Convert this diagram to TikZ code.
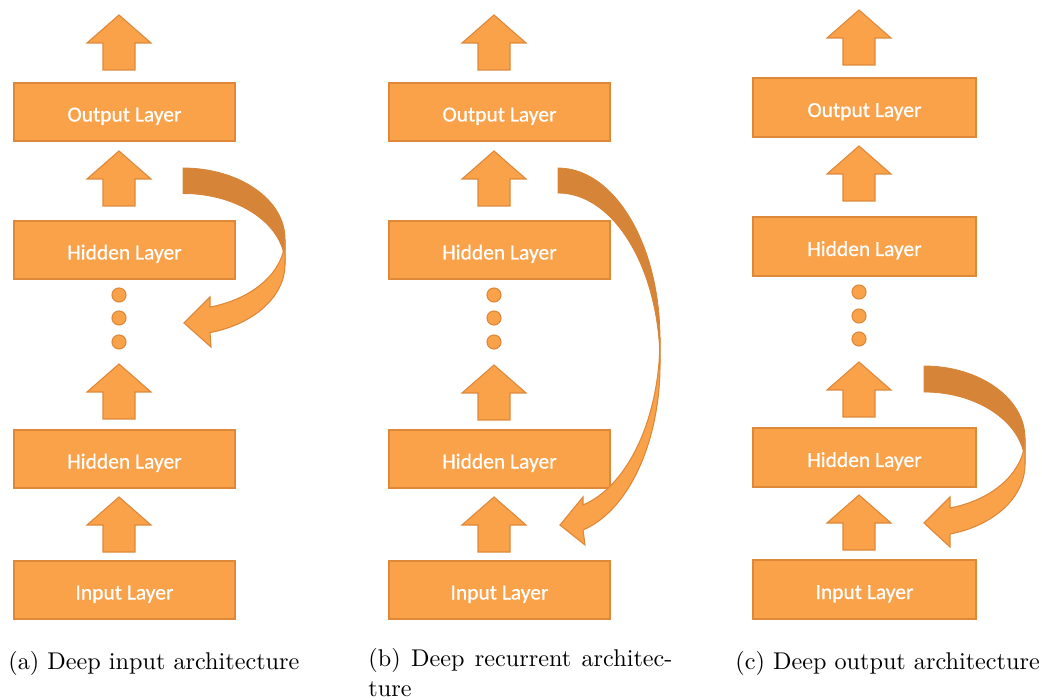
\documentclass[tikz,border=0pt]{standalone}
\usepackage{fontspec}
\newfontfamily\boxfont[FakeBold=0.6]{Carlito}
\definecolor{lorange}{RGB}{250,162,74}
\definecolor{borange}{RGB}{222,136,58}
\definecolor{dorange}{RGB}{214,132,56}
\tikzset{
  layerbox/.style={draw=borange, fill=lorange, line width=1.1pt, inner sep=0pt, outer sep=0pt,
    text=white, font=\boxfont\fontsize{21.5}{24}\selectfont, text height=19pt, text depth=0pt,
    minimum height=58pt},
  dotc/.style={circle, draw=borange, fill=lorange, line width=1.1pt, minimum size=14pt, inner sep=0pt},
  blockarrow/.style={draw=borange, fill=lorange, line width=1.1pt, line join=miter},
  backband/.style={draw=dorange, fill=dorange, line width=0.8pt},
  frontband/.style={draw=borange, fill=lorange, line width=1.1pt, line join=miter},
  captext/.style={inner sep=0pt, scale=2.42, font=\fontsize{10}{12}\selectfont, align=left}
}
\newcommand\blockup[2]{\draw[blockarrow] (#1,#2) -- ++(32,28) -- ++(-16,0) -- ++(0,27) -- ++(-32,0) -- ++(0,-27) -- ++(-16,0) -- cycle;}
\begin{document}
\begin{tikzpicture}[x=1pt,y=-1pt]
\useasboundingbox (0,0) rectangle (1042,700);
% ---------- (a) ----------
\node[layerbox, minimum width=221pt] (aout) at (124.5,112) {Output Layer};
\node[layerbox, minimum width=221pt] (ahidt) at (124.5,250) {Hidden Layer};
\node[layerbox, minimum width=221pt] (ahidb) at (124.5,459) {Hidden Layer};
\node[layerbox, minimum width=221pt] (ain) at (124.5,590) {Input Layer};
\blockup{119}{15}
\blockup{119}{151}
\blockup{119}{364}
\blockup{119}{497}
\node[dotc] (ad1) at (119,295) {};
\node[dotc] (ad2) at (119,318) {};
\node[dotc] (ad3) at (119,342) {};
\filldraw[backband] (183,168) arc[start angle=-90, end angle=0, x radius=102, y radius=70.8]
  -- (285,264.3) arc[start angle=0, end angle=-90, x radius=102, y radius=70.8] -- cycle;
\filldraw[frontband] (285,238.8) -- (285,264.3)
  arc[start angle=0, end angle=74.65, x radius=102, y radius=70.8]
  -- (211,347) -- (184,323) -- (210,297) -- (210,307.1)
  arc[start angle=74.65, end angle=0, x radius=102, y radius=70.8] -- cycle;
% ---------- (b) ----------
\node[layerbox, minimum width=221pt] (bout) at (499.5,112) {Output Layer};
\node[layerbox, minimum width=221pt] (bhidt) at (499.5,250) {Hidden Layer};
\node[layerbox, minimum width=221pt] (bhidb) at (499.5,459) {Hidden Layer};
\node[layerbox, minimum width=221pt] (bin) at (499.5,590) {Input Layer};
\blockup{494}{15}
\blockup{494}{151}
\blockup{494}{365}
\blockup{494}{497}
\node[dotc] (bd1) at (494,295) {};
\node[dotc] (bd2) at (494,318) {};
\node[dotc] (bd3) at (494,342) {};
\filldraw[backband] (558,168) arc[start angle=-90, end angle=0, x radius=102, y radius=171.1]
  -- (660,364.1) arc[start angle=0, end angle=-90, x radius=102, y radius=171.1] -- cycle;
\filldraw[frontband] (660,339.1) -- (660,364.1)
  arc[start angle=0, end angle=75.8, x radius=102, y radius=171.1]
  -- (585,545) -- (560,525) -- (583,497) -- (583,505)
  arc[start angle=75.8, end angle=0, x radius=102, y radius=171.1] -- cycle;
% ---------- (c) ----------
\node[layerbox, minimum width=223pt, minimum height=59pt] (cout) at (864.5,107.5) {Output Layer};
\node[layerbox, minimum width=223pt, minimum height=59pt] (chidt) at (864.5,246.5) {Hidden Layer};
\node[layerbox, minimum width=223pt, minimum height=59pt] (chidb) at (864.5,457.5) {Hidden Layer};
\node[layerbox, minimum width=223pt, minimum height=59pt] (cin) at (864.5,589.5) {Input Layer};
\blockup{859}{10}
\blockup{859}{146}
\blockup{859}{362}
\blockup{859}{495}
\node[dotc] (cd1) at (859,292) {};
\node[dotc] (cd2) at (859,316) {};
\node[dotc] (cd3) at (859,339) {};
\filldraw[backband] (924,366) arc[start angle=-90, end angle=0, x radius=101, y radius=72.2]
  -- (1025,464.2) arc[start angle=0, end angle=-90, x radius=101, y radius=72.2] -- cycle;
\filldraw[frontband] (1025,438.2) -- (1025,464.2)
  arc[start angle=0, end angle=75.1, x radius=101, y radius=72.2]
  -- (950,547) -- (924,523) -- (950,497) -- (950,508)
  arc[start angle=75.1, end angle=0, x radius=101, y radius=72.2] -- cycle;
% ---------- captions ----------
\node[captext, anchor=base west] (capa) at (8,669) {(a) Deep input architecture};
\node[captext, anchor=base west] (capb) at (368,696) {\makebox[125.6pt][s]{(b) Deep recurrent architec-}\\ture};
\node[captext, anchor=base west] (capc) at (735,669) {(c) Deep output architecture};
\end{tikzpicture}
\end{document}
